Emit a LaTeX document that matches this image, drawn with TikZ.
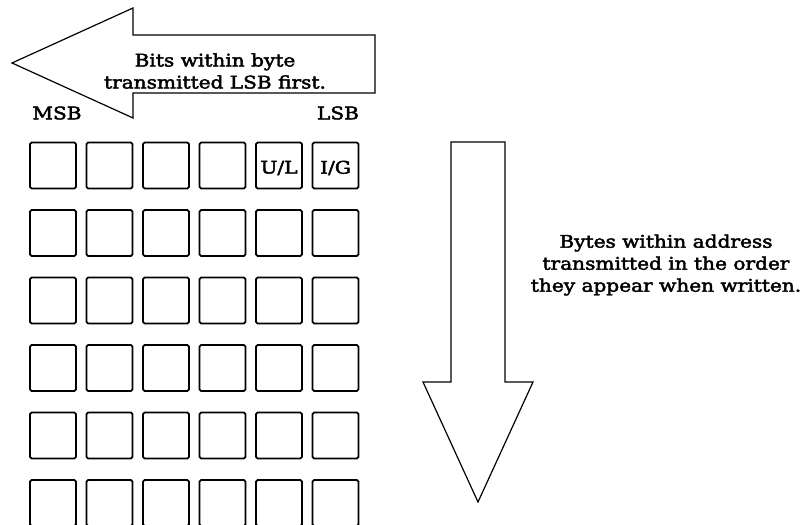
\documentclass[tikz,border=0pt]{standalone}
\usepackage{fontspec}
\setmainfont{DejaVu Serif}[FakeStretch=1.16,FakeBold=2.5]
\begin{document}
\begin{tikzpicture}[x=0.75pt,y=-0.75pt,
  cell/.style={line width=1.3pt,rounded corners=1.2pt},
  bigarrow/.style={line width=0.9pt,line join=miter},
  lbl/.style={font=\fontsize{13}{16.5}\selectfont,align=center,inner sep=0pt}]
\clip (0,0) rectangle (812,524);
\fill[white] (0,0) rectangle (812,524);
\draw[bigarrow] (12,63)--(133,8)--(133,35)--(375,35)--(375,93)--(133,93)--(133,118)--cycle;
\draw[bigarrow] (478,502)--(423,382)--(451,382)--(451,142)--(505,142)--(505,382)--(533,382)--cycle;
\node[lbl] (bitsnote) at (215,71) {Bits within byte\\transmitted LSB first.};
\node[lbl] (bytesnote) at (666,265) {Bytes within address\\transmitted in the order\\they appear when written.};
\node[lbl] (msb) at (57,113) {MSB};
\node[lbl] (lsb) at (338,113) {LSB};
\draw[cell] (30,142.5) rectangle +(46,46);
\draw[cell] (86.5,142.5) rectangle +(46,46);
\draw[cell] (143,142.5) rectangle +(46,46);
\draw[cell] (199.5,142.5) rectangle +(46,46);
\draw[cell] (256,142.5) rectangle +(46,46);
\draw[cell] (312.5,142.5) rectangle +(46,46);
\node[lbl] (ul) at (279,168) {U/L};
\node[lbl] (ig) at (335.5,168) {I/G};
\draw[cell] (30,210) rectangle +(46,46);
\draw[cell] (86.5,210) rectangle +(46,46);
\draw[cell] (143,210) rectangle +(46,46);
\draw[cell] (199.5,210) rectangle +(46,46);
\draw[cell] (256,210) rectangle +(46,46);
\draw[cell] (312.5,210) rectangle +(46,46);
\draw[cell] (30,277.5) rectangle +(46,46);
\draw[cell] (86.5,277.5) rectangle +(46,46);
\draw[cell] (143,277.5) rectangle +(46,46);
\draw[cell] (199.5,277.5) rectangle +(46,46);
\draw[cell] (256,277.5) rectangle +(46,46);
\draw[cell] (312.5,277.5) rectangle +(46,46);
\draw[cell] (30,345) rectangle +(46,46);
\draw[cell] (86.5,345) rectangle +(46,46);
\draw[cell] (143,345) rectangle +(46,46);
\draw[cell] (199.5,345) rectangle +(46,46);
\draw[cell] (256,345) rectangle +(46,46);
\draw[cell] (312.5,345) rectangle +(46,46);
\draw[cell] (30,412.5) rectangle +(46,46);
\draw[cell] (86.5,412.5) rectangle +(46,46);
\draw[cell] (143,412.5) rectangle +(46,46);
\draw[cell] (199.5,412.5) rectangle +(46,46);
\draw[cell] (256,412.5) rectangle +(46,46);
\draw[cell] (312.5,412.5) rectangle +(46,46);
\draw[cell] (30,480) rectangle +(46,46);
\draw[cell] (86.5,480) rectangle +(46,46);
\draw[cell] (143,480) rectangle +(46,46);
\draw[cell] (199.5,480) rectangle +(46,46);
\draw[cell] (256,480) rectangle +(46,46);
\draw[cell] (312.5,480) rectangle +(46,46);
\end{tikzpicture}
\end{document}
